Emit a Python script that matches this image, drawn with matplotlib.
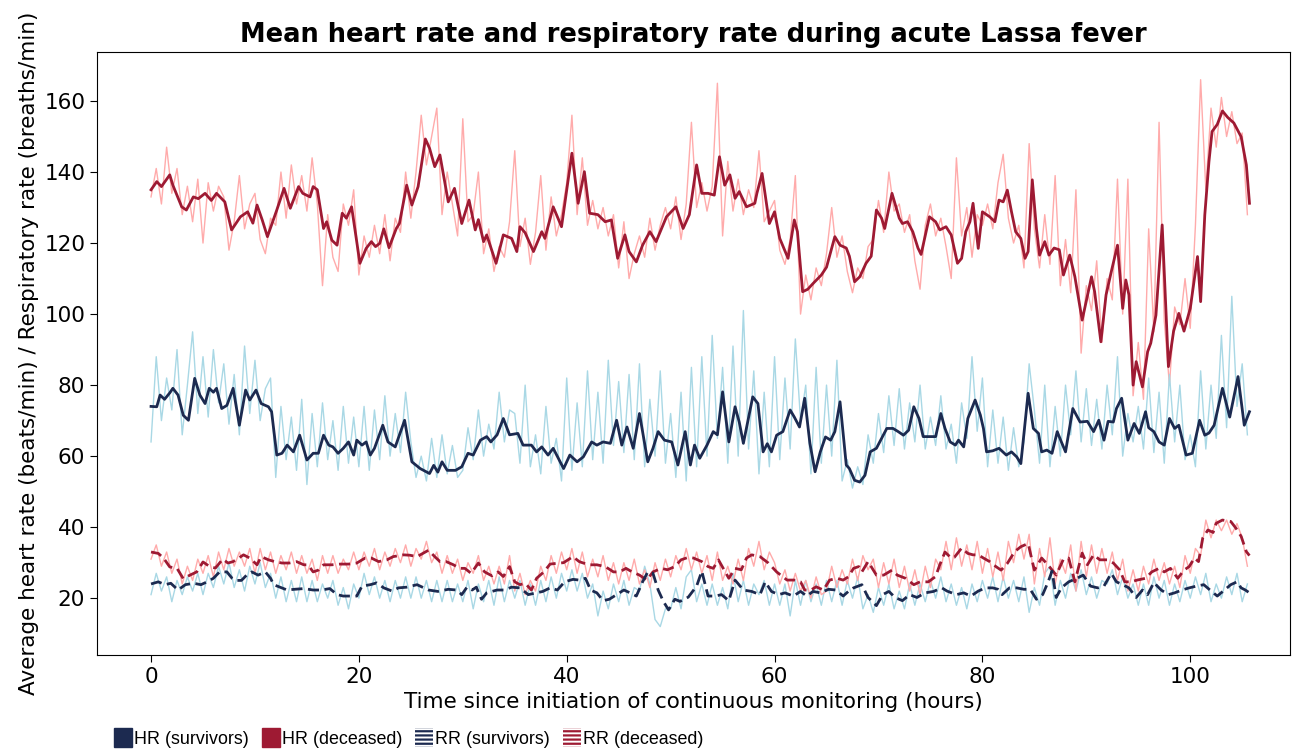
import numpy as np
import matplotlib
matplotlib.use("Agg")
import matplotlib.pyplot as plt
from matplotlib.patches import Patch

# ---------------- data ----------------
# Smoothed mean heart rate, deceased (hours, beats/min)
hr_dec_t = [0.0, 0.55, 1.0, 1.8, 2.1, 2.95, 3.4, 4.07, 4.55, 5.2, 5.8, 6.3, 7.1, 7.75, 8.6, 9.3, 9.8, 10.2, 10.7, 11.2,
            12.1, 12.8, 13.4, 14.2, 14.6, 15.3, 15.6, 16.0, 16.6, 16.9, 17.4, 17.9, 18.4, 18.8, 19.3, 20.1, 20.7, 21.2,
            21.6, 22.0, 22.4, 22.9, 23.6, 23.9, 24.6, 25.1, 25.7, 26.4, 26.8, 27.3, 27.8, 28.6, 29.2, 29.9, 30.6, 31.2,
            31.5, 32.0, 32.3, 33.2, 33.9, 34.7, 35.2, 35.5, 36.0, 36.8, 37.6, 37.9, 38.7, 39.5, 40.5, 41.1, 41.7, 42.2,
            43.0, 43.7, 44.3, 44.9, 45.6, 46.0, 46.7, 47.3, 48.0, 48.6, 49.6, 50.5, 51.2, 51.8, 52.5, 53.0, 53.6, 54.2,
            54.7, 55.2, 55.7, 56.2, 56.6, 57.3, 58.1, 58.3, 58.8, 59.5, 60.0, 60.5, 61.3, 61.9, 62.2, 62.7, 63.2, 63.7,
            64.5, 65.0, 65.8, 66.3, 66.9, 67.2, 67.7, 68.2, 68.8, 69.3, 69.8, 70.3, 70.6, 71.3, 72.0, 72.3, 72.8, 73.3,
            73.8, 74.1, 74.9, 75.5, 75.9, 76.5, 77.0, 77.6, 78.0, 78.4, 78.8, 79.1, 79.6, 80.0, 80.7, 81.2, 81.6, 82.0,
            82.4, 82.8, 83.2, 83.7, 84.1, 84.4, 84.8, 85.2, 85.5, 86.0, 86.4, 86.9, 87.4, 87.8, 88.4, 88.9, 89.6, 90.5,
            90.8, 91.4, 91.9, 92.4, 93.0, 93.5, 93.8, 94.1, 94.5, 94.8, 95.4, 95.9, 96.2, 96.7, 97.3, 97.9, 98.4, 98.9,
            99.4, 100.0, 100.7, 101.0, 101.4, 101.8, 102.1, 102.6, 103.1, 103.6, 104.2, 104.9, 105.4, 105.7]
hr_dec_v = [135.0, 137.3, 135.9, 139.2, 136.3, 130.2, 129.3, 133.0, 132.5, 134.0, 132.0, 134.0, 131.6, 123.7, 127.4, 128.8,
            125.6, 130.7, 126.5, 121.8, 129.3, 135.4, 129.8, 135.9, 134.0, 133.0, 135.9, 135.0, 124.1, 126.0, 120.8, 119.4,
            128.4, 127.0, 130.2, 114.3, 118.5, 120.4, 119.0, 119.9, 124.0, 118.7, 124.1, 125.5, 136.3, 130.7, 135.9, 149.3,
            146.7, 141.5, 144.8, 131.6, 135.4, 125.5, 132.1, 123.7, 126.6, 120.4, 122.3, 114.3, 122.3, 121.3, 117.6, 124.6,
            122.9, 117.6, 123.2, 121.3, 130.2, 124.6, 145.3, 131.2, 140.1, 128.4, 128.0, 126.0, 126.5, 115.7, 122.3, 117.6,
            114.7, 119.4, 123.2, 120.4, 127.4, 130.2, 124.1, 128.0, 142.0, 134.0, 134.0, 133.5, 144.3, 136.3, 139.2, 132.6,
            134.5, 130.2, 131.2, 134.0, 139.6, 125.5, 128.8, 121.3, 115.7, 126.5, 123.2, 106.3, 107.0, 108.6, 111.0, 113.2,
            121.8, 119.4, 118.6, 116.3, 109.1, 110.5, 114.3, 116.3, 129.3, 127.0, 124.1, 134.0, 127.0, 125.5, 126.0, 123.2,
            118.6, 116.8, 127.4, 126.0, 123.7, 124.6, 122.3, 114.3, 115.7, 123.2, 126.0, 131.2, 118.5, 128.8, 127.4, 126.0,
            132.1, 131.6, 134.9, 128.8, 123.2, 121.3, 115.7, 117.6, 137.8, 124.1, 116.6, 120.4, 116.6, 118.6, 118.1, 111.0,
            116.6, 110.5, 98.3, 110.5, 106.3, 92.2, 105.4, 111.9, 119.4, 101.6, 109.6, 105.4, 80.0, 86.6, 79.5, 89.4,
            91.8, 99.7, 125.1, 85.2, 95.2, 100.2, 95.2, 101.6, 116.2, 103.5, 127.9, 142.9, 151.4, 153.4, 157.2, 155.4,
            153.8, 149.9, 142.0, 131.2]

# Smoothed mean heart rate, survivors
hr_sur_t = [0.0, 0.55, 0.87, 1.3, 1.8, 2.1, 2.6, 3.1, 3.6, 4.2, 4.7, 5.2, 5.6, 6.0, 6.3, 6.8, 7.3, 7.9, 8.5, 9.1, 9.5,
            10.1, 10.6, 11.3, 11.6, 12.1, 12.6, 13.1, 13.7, 14.3, 15.0, 15.6, 16.1, 16.6, 17.1, 17.5, 18.0, 18.5, 19.0,
            19.5, 19.8, 20.3, 20.7, 21.1, 21.5, 22.3, 22.8, 23.5, 24.4, 25.1, 25.9, 26.8, 27.2, 27.6, 28.0, 28.5, 29.3,
            29.9, 30.5, 31.0, 31.7, 32.3, 32.7, 33.3, 33.9, 34.5, 35.3, 35.8, 36.6, 37.1, 37.6, 38.2, 38.7, 39.7, 40.3,
            41.0, 41.6, 42.4, 42.9, 43.5, 44.2, 44.8, 45.3, 45.8, 46.4, 47.0, 47.8, 48.3, 48.8, 49.4, 50.1, 50.7, 51.4,
            51.9, 52.3, 52.8, 53.5, 54.1, 54.5, 55.0, 55.6, 56.2, 56.6, 57.0, 57.9, 58.4, 58.9, 59.3, 59.7, 60.2, 60.8,
            61.5, 61.9, 62.4, 62.9, 63.4, 63.9, 64.4, 64.9, 65.4, 65.8, 66.3, 66.9, 67.2, 67.7, 68.2, 68.7, 69.2, 69.8,
            70.3, 70.8, 71.4, 71.9, 72.4, 72.9, 73.4, 73.9, 74.3, 74.8, 75.5, 76.0, 76.4, 76.9, 77.4, 77.7, 78.2, 78.6,
            79.3, 79.8, 80.1, 80.4, 81.0, 81.6, 82.3, 82.8, 83.3, 83.7, 84.4, 84.9, 85.4, 85.7, 86.2, 86.7, 87.2, 87.6,
            88.0, 88.7, 89.4, 90.1, 90.7, 91.2, 91.7, 92.1, 92.6, 92.9, 93.4, 94.0, 94.6, 95.1, 95.7, 96.0, 96.5, 97.0,
            97.5, 98.0, 98.5, 98.9, 99.6, 100.2, 100.9, 101.4, 101.8, 102.3, 103.1, 103.8, 104.6, 105.2, 105.7]
hr_sur_v = [74.0, 73.9, 77.2, 76.0, 77.8, 79.1, 77.2, 71.5, 70.1, 81.9, 77.2, 74.8, 79.1, 78.0, 79.1, 73.4, 74.3, 79.1,
            68.7, 78.6, 75.8, 78.6, 74.8, 73.9, 72.5, 60.3, 60.8, 63.1, 61.2, 65.9, 58.9, 60.8, 60.8, 65.9, 63.1, 62.6,
            60.8, 62.2, 64.0, 60.3, 64.5, 63.1, 64.0, 60.3, 62.2, 68.7, 64.0, 62.6, 70.1, 58.4, 56.5, 55.1, 57.4, 55.5,
            58.4, 56.0, 56.0, 57.0, 60.8, 60.3, 64.5, 65.5, 64.0, 66.0, 70.6, 66.0, 66.4, 63.1, 63.1, 61.2, 62.6, 60.3,
            62.2, 56.5, 60.3, 58.4, 59.8, 64.0, 63.1, 64.0, 63.6, 70.1, 63.1, 68.2, 62.2, 72.0, 58.4, 62.2, 66.9, 64.5,
            64.0, 57.5, 66.9, 57.5, 63.1, 59.4, 63.1, 66.9, 66.0, 78.1, 64.0, 73.9, 69.6, 63.6, 76.7, 74.8, 61.2, 63.5,
            61.2, 65.9, 66.9, 73.0, 71.0, 68.2, 76.3, 63.6, 55.6, 61.2, 65.4, 64.5, 66.9, 75.3, 57.5, 56.5, 53.2, 52.7,
            54.6, 61.2, 62.2, 65.0, 67.8, 67.8, 66.9, 65.9, 67.3, 73.9, 70.6, 65.5, 65.5, 65.5, 72.0, 67.8, 64.0, 63.1,
            64.5, 62.6, 70.6, 75.8, 71.6, 67.8, 61.2, 61.5, 62.2, 60.3, 61.2, 59.8, 57.9, 77.7, 67.8, 66.4, 61.2, 61.7,
            60.8, 66.9, 64.0, 61.2, 73.4, 69.6, 69.8, 66.9, 70.1, 64.5, 69.8, 69.6, 73.4, 76.3, 64.5, 69.2, 66.4, 72.5,
            68.0, 66.9, 64.0, 63.1, 70.6, 67.8, 68.7, 60.3, 60.8, 70.1, 65.9, 66.5, 68.7, 79.1, 71.0, 82.4, 68.7, 72.5]

# Smoothed mean respiratory rate, deceased (breaths/min)
rr_dec_t = [0.0, 0.7, 1.2, 1.8, 2.5, 3.1, 3.75, 4.4, 5.0, 5.7, 6.2, 6.9, 7.4, 7.9, 8.9, 9.5, 10.2, 10.6, 11.3, 11.9, 12.6,
            13.3, 14.0, 14.7, 15.1, 15.6, 16.1, 16.6, 17.4, 18.2, 19.0, 19.8, 20.6, 21.2, 21.9, 22.7, 23.3, 24.3, 24.9,
            25.6, 26.7, 27.3, 27.8, 28.4, 29.1, 29.7, 30.2, 30.8, 31.5, 32.1, 32.8, 33.4, 33.9, 34.5, 35.0, 35.5, 36.0,
            36.6, 37.1, 37.8, 38.4, 39.0, 39.7, 40.6, 41.2, 42.1, 42.9, 43.7, 44.5, 45.1, 45.7, 46.3, 47.0, 47.7, 48.3,
            49.1, 49.7, 50.4, 51.0, 51.7, 52.2, 53.0, 53.6, 54.1, 54.6, 55.6, 56.2, 56.8, 57.3, 57.8, 58.6, 59.4, 60.2,
            61.2, 61.9, 62.5, 62.9, 63.5, 64.0, 64.7, 65.3, 66.0, 66.6, 67.1, 67.6, 68.1, 68.4, 69.0, 69.8, 70.5, 71.3,
            71.8, 72.6, 73.4, 74.0, 74.8, 75.5, 75.9, 76.4, 77.0, 77.3, 78.0, 78.6, 79.1, 79.6, 80.1, 80.7, 81.3, 81.8,
            82.4, 83.1, 83.7, 84.4, 85.0, 85.7, 86.3, 87.1, 87.8, 88.3, 88.9, 89.6, 90.1, 90.7, 91.3, 92.0, 92.6, 93.2,
            93.7, 94.3, 94.9, 95.7, 96.3, 97.0, 97.5, 98.1, 98.8, 99.4, 99.9, 100.4, 100.8, 101.2, 101.7, 102.2, 102.5,
            103.1, 103.9, 104.4, 104.9, 105.4, 105.7]
rr_dec_v = [33.0, 32.6, 31.3, 28.8, 28.4, 25.5, 26.5, 27.4, 30.2, 28.8, 28.5, 31.0, 29.9, 30.3, 32.2, 31.3, 29.4, 31.7,
            30.8, 30.3, 29.9, 29.9, 30.3, 29.4, 29.4, 27.4, 27.9, 29.4, 29.4, 29.6, 29.6, 29.9, 31.3, 31.3, 30.3, 30.8,
            31.7, 32.2, 32.1, 31.7, 33.5, 31.7, 30.3, 30.3, 29.4, 28.4, 28.4, 27.0, 29.9, 27.4, 26.3, 27.4, 26.1, 28.9,
            24.6, 23.8, 24.2, 22.3, 25.6, 27.4, 29.6, 29.8, 30.0, 31.7, 30.3, 29.4, 29.4, 28.9, 27.4, 27.4, 28.4, 27.4,
            26.5, 25.1, 27.4, 28.4, 28.0, 28.9, 30.8, 31.5, 31.3, 30.3, 28.9, 28.4, 30.8, 25.6, 28.4, 28.0, 31.3, 32.2,
            31.7, 29.9, 27.4, 25.1, 25.1, 24.6, 22.3, 22.3, 23.2, 22.3, 25.1, 25.6, 25.1, 26.0, 28.4, 28.9, 27.4, 30.3,
            26.5, 26.5, 27.9, 26.5, 25.6, 23.8, 24.6, 24.6, 26.1, 29.4, 33.0, 31.3, 31.5, 34.1, 32.6, 32.2, 32.2, 31.3,
            30.3, 28.9, 27.9, 29.8, 33.1, 34.5, 35.4, 27.9, 31.3, 29.4, 26.5, 31.0, 31.3, 24.6, 32.7, 29.4, 32.2, 30.8,
            30.8, 29.9, 28.0, 24.6, 24.6, 25.1, 25.6, 27.4, 28.4, 27.4, 28.4, 25.6, 27.9, 28.9, 31.3, 30.3, 36.9, 39.2,
            38.5, 41.1, 42.0, 41.6, 39.7, 37.4, 33.1, 32.0]

# Smoothed mean respiratory rate, survivors
rr_sur_t = [0.0, 0.7, 1.35, 1.9, 2.6, 3.3, 4.1, 4.8, 5.4, 6.0, 6.6, 7.3, 7.8, 8.1, 8.7, 9.2, 9.7, 10.3, 11.0, 11.5, 11.8,
            12.4, 13.1, 13.8, 14.7, 15.6, 16.4, 17.2, 17.9, 18.5, 19.3, 19.8, 20.3, 21.1, 21.7, 22.4, 23.2, 23.8, 24.6,
            25.6, 26.7, 27.6, 28.6, 29.4, 29.9, 30.4, 30.9, 31.3, 31.8, 32.3, 33.3, 34.0, 34.7, 35.5, 36.3, 37.1, 37.7,
            38.4, 39.1, 39.8, 40.6, 41.2, 41.8, 42.3, 42.9, 43.5, 44.1, 44.8, 45.5, 46.1, 46.7, 47.3, 47.8, 48.3, 48.8,
            49.3, 49.8, 50.4, 50.9, 51.7, 52.5, 53.0, 53.6, 54.3, 54.9, 55.6, 56.2, 57.0, 57.8, 58.6, 59.1, 59.7, 60.4,
            61.0, 61.8, 62.5, 63.1, 63.7, 64.4, 65.2, 65.9, 66.6, 67.1, 67.6, 68.4, 69.0, 69.8, 70.4, 71.0, 71.6, 72.3,
            73.0, 73.7, 74.5, 75.3, 76.1, 76.6, 77.5, 78.2, 78.9, 79.6, 80.3, 81.0, 81.5, 81.9, 82.6, 83.3, 84.0, 84.6,
            85.2, 85.8, 86.3, 86.7, 87.1, 87.6, 88.3, 89.1, 89.7, 90.4, 91.1, 91.7, 92.4, 92.9, 93.5, 94.1, 94.8, 95.4,
            95.9, 96.5, 97.2, 97.9, 98.5, 99.2, 99.9, 100.6, 101.3, 101.9, 102.6, 103.3, 103.9, 104.5, 104.9, 105.3, 105.7]
rr_sur_v = [24.0, 24.6, 23.8, 24.2, 22.3, 23.8, 24.2, 23.8, 24.6, 25.6, 27.4, 27.4, 25.6, 25.0, 25.0, 26.5, 27.4, 26.5,
            27.4, 25.6, 23.8, 23.1, 22.3, 22.5, 22.7, 22.3, 22.3, 22.7, 21.0, 20.6, 20.6, 20.6, 23.4, 23.8, 24.3, 22.9,
            22.0, 22.9, 23.1, 23.8, 22.3, 21.9, 22.5, 22.3, 21.0, 23.1, 22.3, 23.1, 19.7, 21.5, 22.3, 22.3, 23.1, 22.9,
            21.0, 21.5, 21.9, 22.9, 22.3, 24.6, 25.3, 25.1, 25.6, 22.3, 21.5, 19.3, 19.7, 21.0, 22.3, 21.5, 20.6, 24.6,
            27.4, 27.0, 22.3, 19.1, 16.7, 19.7, 19.1, 20.3, 23.4, 27.6, 20.6, 20.6, 21.0, 19.3, 25.1, 22.3, 21.9, 21.0,
            24.6, 21.9, 21.0, 21.5, 20.6, 21.9, 20.6, 21.9, 21.5, 22.5, 22.3, 20.6, 21.9, 22.9, 23.8, 20.2, 17.9, 21.0,
            21.9, 20.2, 19.3, 21.0, 20.2, 21.5, 21.9, 22.9, 22.0, 21.0, 21.5, 20.6, 22.0, 22.9, 22.9, 22.5, 21.0, 22.9,
            22.9, 22.5, 22.5, 19.7, 21.0, 24.4, 27.6, 20.2, 22.9, 24.6, 25.6, 26.5, 23.4, 22.9, 23.4, 27.0, 24.6, 23.8,
            22.9, 20.2, 22.3, 21.0, 24.4, 22.3, 21.0, 21.5, 22.3, 22.9, 23.4, 23.8, 22.3, 20.6, 22.3, 23.8, 24.6, 22.9,
            22.3, 21.5]

# Raw (unsmoothed) values, every 0.5 h
raw_step = 0.5
hr_dec_raw = [133, 141, 131, 147, 134, 141, 128, 136, 126, 138,
              120, 137, 129, 136, 133, 118, 126, 139, 124, 131,
              134, 121, 117, 127, 125, 140, 127, 142, 131, 139,
              129, 144, 131, 108, 128, 116, 112, 131, 125, 135,
              111, 122, 116, 125, 117, 128, 115, 127, 123, 140,
              127, 140, 156, 142, 150, 158, 128, 140, 131, 122,
              155, 126, 128, 140, 117, 124, 112, 119, 116, 126,
              146, 119, 127, 114, 123, 139, 118, 133, 122, 128,
              137, 156, 128, 144, 125, 132, 124, 130, 122, 128,
              113, 126, 110, 117, 122, 116, 127, 118, 125, 130,
              124, 133, 121, 131, 154, 130, 137, 129, 136, 165,
              122, 143, 129, 138, 128, 135, 130, 146, 126, 129,
              132, 118, 114, 121, 139, 100, 111, 104, 113, 108,
              117, 130, 116, 122, 112, 106, 113, 110, 119, 121,
              132, 123, 140, 129, 131, 123, 128, 115, 107, 125,
              131, 122, 127, 119, 110, 144, 122, 130, 116, 128,
              125, 131, 124, 137, 145, 127, 120, 125, 113, 148,
              124, 113, 128, 114, 139, 108, 121, 106, 135, 89,
              108, 101, 115, 92, 110, 104, 138, 100, 138, 77,
              92, 76, 124, 95, 154, 98, 80, 102, 97, 110,
              96, 125, 166, 135, 158, 147, 161, 150, 157, 148,
              151, 128]
hr_sur_raw = [64, 88, 70, 82, 73, 90, 66, 80, 95, 72,
              88, 71, 90, 75, 86, 69, 83, 66, 91, 72,
              87, 70, 79, 82, 54, 74, 59, 71, 56, 76,
              52, 72, 57, 75, 59, 70, 56, 74, 58, 71,
              57, 74, 56, 73, 59, 77, 60, 72, 61, 78,
              64, 54, 60, 53, 65, 54, 66, 55, 63, 54,
              56, 68, 59, 73, 60, 69, 62, 78, 64, 73,
              72, 58, 80, 57, 66, 55, 74, 58, 65, 53,
              82, 56, 75, 57, 84, 59, 78, 58, 87, 63,
              81, 61, 83, 59, 86, 57, 76, 60, 84, 58,
              72, 54, 78, 53, 85, 57, 88, 60, 94, 65,
              85, 58, 91, 60, 101, 62, 84, 55, 78, 57,
              88, 59, 82, 62, 93, 70, 80, 55, 85, 58,
              80, 60, 87, 53, 59, 51, 57, 52, 66, 58,
              72, 61, 77, 63, 79, 62, 75, 64, 80, 62,
              71, 63, 77, 62, 69, 58, 75, 65, 88, 67,
              82, 57, 73, 58, 71, 56, 68, 57, 64, 86,
              73, 58, 80, 57, 74, 60, 80, 66, 84, 64,
              79, 63, 76, 62, 80, 66, 88, 60, 72, 64,
              74, 62, 82, 61, 78, 58, 83, 64, 80, 59,
              66, 57, 84, 62, 80, 65, 94, 68, 105, 74,
              86, 66]
rr_dec_raw = [31, 35, 29, 33, 27, 31, 24, 29, 25, 31,
              27, 32, 26, 33, 28, 34, 29, 33, 29, 34,
              27, 34, 28, 33, 27, 32, 28, 33, 27, 32,
              27, 31, 25, 32, 27, 32, 27, 31, 28, 33,
              28, 33, 29, 34, 28, 33, 29, 34, 30, 35,
              29, 34, 31, 36, 30, 33, 27, 32, 27, 31,
              25, 30, 27, 32, 25, 29, 24, 29, 24, 32,
              22, 27, 21, 25, 22, 29, 25, 32, 27, 33,
              28, 34, 27, 33, 26, 31, 26, 32, 25, 30,
              24, 30, 25, 31, 24, 28, 23, 30, 25, 31,
              26, 32, 28, 34, 28, 33, 27, 32, 25, 33,
              25, 29, 24, 31, 25, 34, 29, 36, 28, 33,
              30, 24, 28, 22, 27, 22, 25, 20, 26, 21,
              22, 29, 23, 28, 24, 31, 25, 32, 28, 31,
              23, 30, 24, 31, 23, 29, 22, 28, 21, 29,
              23, 31, 28, 36, 28, 37, 29, 35, 28, 36,
              27, 34, 26, 33, 25, 36, 30, 38, 31, 38,
              24, 34, 26, 37, 24, 31, 27, 35, 22, 36,
              26, 35, 27, 34, 27, 33, 25, 31, 22, 28,
              22, 29, 24, 31, 25, 30, 24, 29, 23, 32,
              27, 34, 32, 42, 37, 42, 39, 42, 38, 41,
              37, 29]
rr_sur_raw = [21, 27, 22, 26, 19, 25, 21, 26, 22, 27,
              21, 27, 23, 29, 24, 30, 23, 28, 22, 29,
              24, 30, 23, 27, 20, 26, 19, 25, 19, 26,
              19, 25, 19, 24, 20, 25, 18, 23, 17, 24,
              20, 27, 21, 26, 20, 25, 19, 25, 20, 26,
              20, 26, 20, 25, 19, 25, 19, 25, 19, 24,
              19, 25, 17, 24, 19, 25, 18, 26, 19, 25,
              20, 25, 18, 24, 18, 25, 19, 26, 20, 27,
              22, 28, 22, 27, 20, 24, 15, 22, 17, 24,
              19, 25, 18, 23, 22, 29, 24, 14, 12, 17,
              17, 23, 17, 26, 28, 19, 24, 18, 24, 18,
              23, 17, 27, 19, 25, 18, 24, 21, 25, 18,
              24, 18, 24, 15, 25, 18, 25, 19, 24, 18,
              25, 19, 25, 18, 25, 20, 26, 17, 21, 16,
              23, 18, 24, 17, 22, 17, 24, 18, 24, 19,
              25, 20, 26, 19, 24, 18, 23, 17, 24, 19,
              25, 20, 26, 19, 26, 20, 25, 19, 26, 16,
              23, 18, 27, 29, 18, 25, 20, 27, 22, 28,
              21, 26, 20, 25, 24, 28, 21, 26, 20, 24,
              18, 24, 18, 26, 20, 25, 18, 24, 19, 25,
              20, 26, 21, 27, 19, 24, 20, 26, 21, 27,
              19, 24]

x_ticks = [0, 20, 40, 60, 80, 100]
y_ticks = [20, 40, 60, 80, 100, 120, 140, 160]
legend_labels = ["HR (survivors)", "HR (deceased)", "RR (survivors)", "RR (deceased)"]

# ---------------- style ----------------
NAVY = "#1c2a50"
RED = "#9e1a33"
PINK = "#ffabab"
LBLUE = "#a9d8e5"

plt.rcParams['hatch.linewidth'] = 1.6

fig = plt.figure(figsize=(12.92, 7.49), dpi=100)
ax = fig.add_axes([97 / 1292, 1 - 655 / 749, (1290 - 97) / 1292, (655 - 52) / 749])

def grid_t(vals):
    return np.arange(len(vals)) * raw_step

# raw traces
ax.plot(grid_t(hr_dec_raw), hr_dec_raw, color=PINK, lw=1.0, zorder=1)
ax.plot(grid_t(hr_sur_raw), hr_sur_raw, color=LBLUE, lw=1.0, zorder=1)
ax.plot(grid_t(rr_dec_raw), rr_dec_raw, color=PINK, lw=1.0, zorder=1.2)
ax.plot(grid_t(rr_sur_raw), rr_sur_raw, color=LBLUE, lw=1.0, zorder=1.1)

# smoothed means
ax.plot(hr_dec_t, hr_dec_v, color=RED, lw=2.0, zorder=3)
ax.plot(hr_sur_t, hr_sur_v, color=NAVY, lw=2.0, zorder=3)
ax.plot(rr_dec_t, rr_dec_v, color=RED, lw=2.0, ls=(0, (4, 2)), zorder=3)
ax.plot(rr_sur_t, rr_sur_v, color=NAVY, lw=2.0, ls=(0, (4, 2)), zorder=3)

ax.set_xlim(-5.2, 109.6)
ax.set_ylim(4.0, 173.8)
ax.set_xticks(x_ticks)
ax.set_yticks(y_ticks)
ax.tick_params(labelsize=15.5, length=5)

ax.set_title("Mean heart rate and respiratory rate during acute Lassa fever",
             fontsize=18.5, fontweight='bold', pad=7)
ax.set_xlabel("Time since initiation of continuous monitoring (hours)", fontsize=15.5, labelpad=4)
ax.set_ylabel("Average heart rate (beats/min) / Respiratory rate (breaths/min)", fontsize=15.5, labelpad=4)

handles = [Patch(facecolor=NAVY, edgecolor=NAVY, label=legend_labels[0]),
           Patch(facecolor=RED, edgecolor=RED, label=legend_labels[1]),
           Patch(facecolor='white', edgecolor=NAVY, hatch='----', lw=0, label=legend_labels[2]),
           Patch(facecolor='white', edgecolor=RED, hatch='----', lw=0, label=legend_labels[3])]
fig.legend(handles=handles, loc='lower left', bbox_to_anchor=(98 / 1292, -0.02), ncol=4,
           frameon=False, handlelength=1.0, handleheight=1.25, handletextpad=0.12,
           columnspacing=0.72, prop={'family': 'Liberation Sans', 'size': 12.9})

fig.savefig("out.png", dpi=100)
